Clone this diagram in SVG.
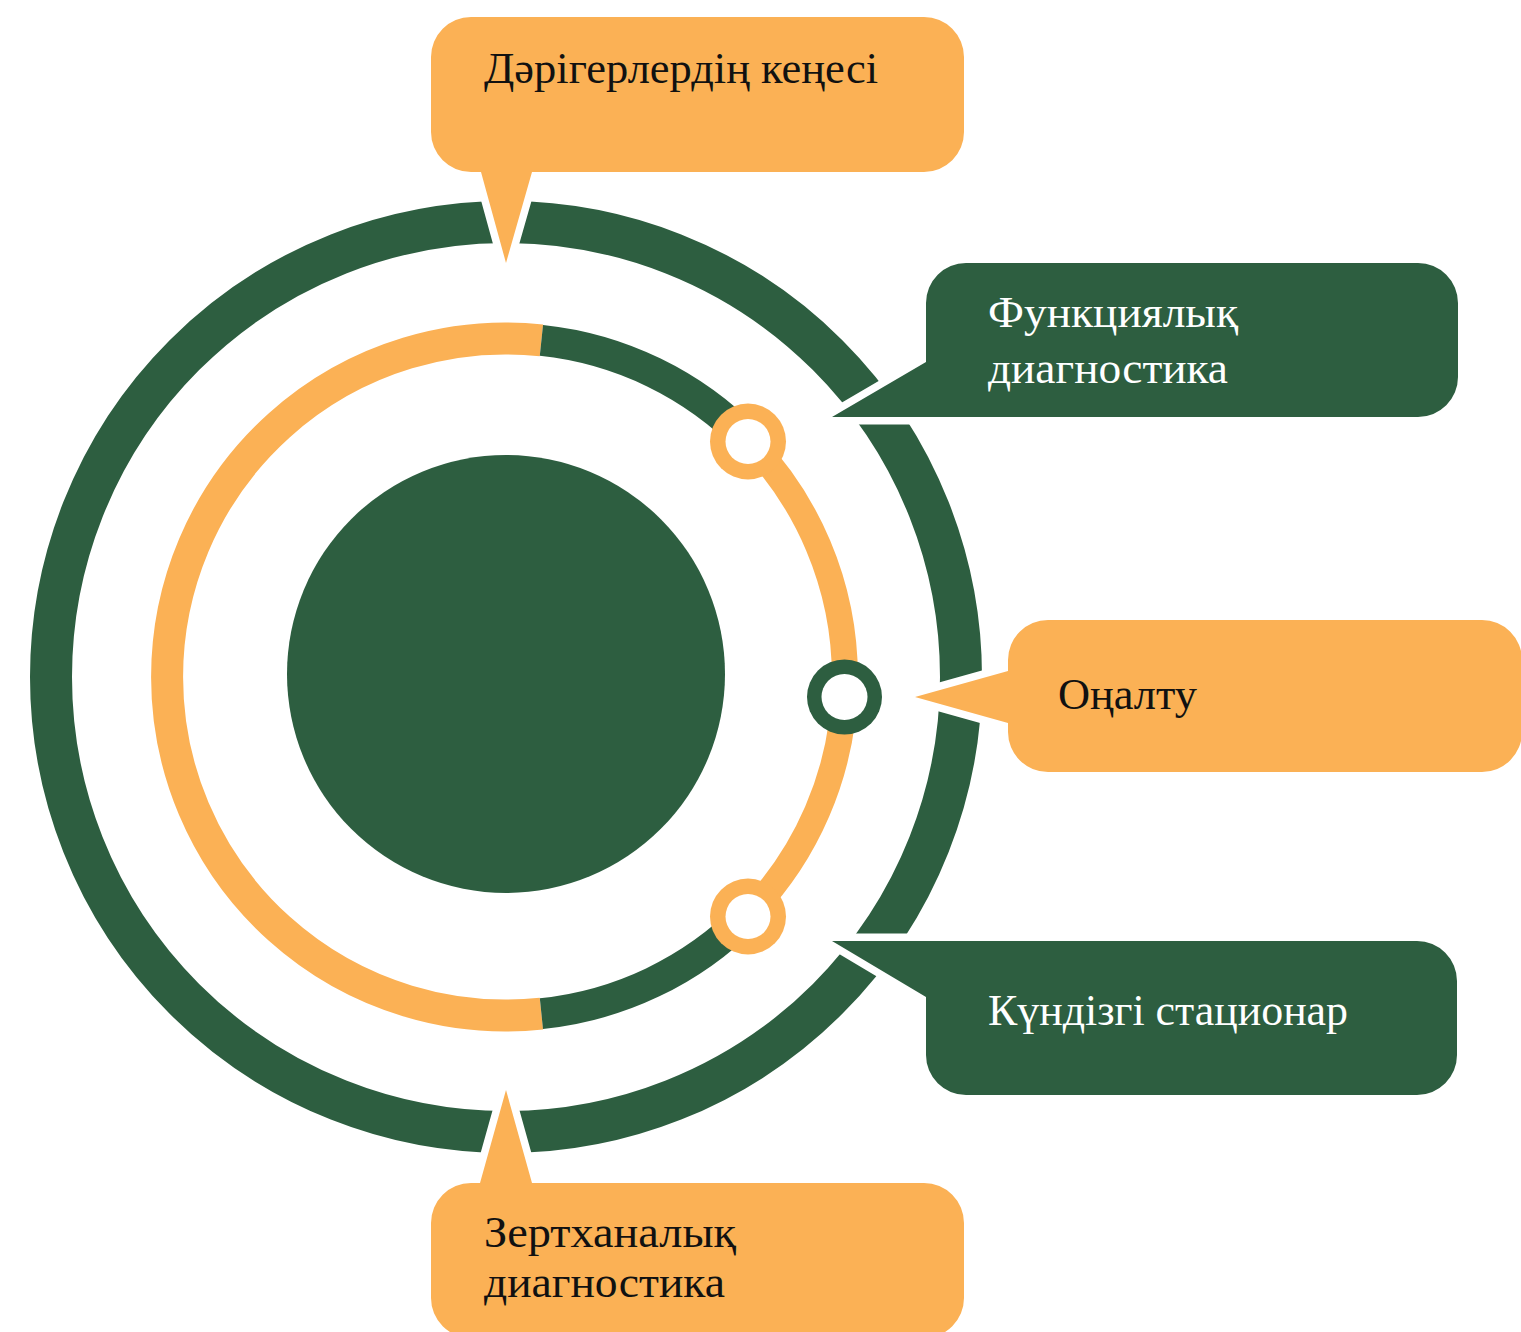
<svg xmlns="http://www.w3.org/2000/svg" width="1521" height="1332" viewBox="0 0 1521 1332">
  <style>
    .green { fill: #2D5E40; }
    .orange { fill: #FBB155; }
    .callout { stroke: #FFFFFF; stroke-width: 15; stroke-linejoin: miter; paint-order: stroke; }
    .arc { fill: none; stroke-linecap: butt; }
    .lbl { font-family: "Liberation Serif", "DejaVu Serif", serif; font-size: 44px; }
    .dark { fill: #111111; }
    .light { fill: #FFFFFF; }
  </style>
  <rect x="0" y="0" width="1521" height="1332" fill="#FFFFFF"/>

  <g id="connectors">
    <circle id="outer-ring" cx="506" cy="677" r="455" class="arc" stroke="#2D5E40" stroke-width="42"/>
    <path d="M541.4,1013.6 A338.5,338.5 0 1 1 541.4,340.4" class="arc" stroke="#FBB155" stroke-width="32"/>
    <path d="M541.4,340.4 A338.5,338.5 0 0 1 748.7,441.0" class="arc" stroke="#2D5E40" stroke-width="31"/>
    <path d="M748.7,441.0 A338.5,338.5 0 0 1 747.0,915.5" class="arc" stroke="#FBB155" stroke-width="26"/>
    <path d="M747.0,915.5 A338.5,338.5 0 0 1 541.4,1013.6" class="arc" stroke="#2D5E40" stroke-width="31"/>
  </g>

  <g id="center">
    <circle cx="506" cy="674" r="219" class="green"/>
  </g>

  <g id="marker-upper">
    <circle cx="748" cy="441.5" r="38" class="orange"/>
    <circle cx="748" cy="441.5" r="22.5" fill="#FFFFFF"/>
  </g>
  <g id="marker-middle">
    <circle cx="844.5" cy="697" r="37.5" class="green"/>
    <circle cx="844.5" cy="697" r="23" fill="#FFFFFF"/>
  </g>
  <g id="marker-lower">
    <circle cx="748" cy="916.5" r="38" class="orange"/>
    <circle cx="748" cy="916.5" r="22.5" fill="#FFFFFF"/>
  </g>

  <g id="callout-top">
    <path class="orange callout" d="M471,17 H924 A40,40 0 0 1 964,57 V132 A40,40 0 0 1 924,172 H532 L506,263 L481,172 H471 A40,40 0 0 1 431,132 V57 A40,40 0 0 1 471,17 Z"/>
    <text class="lbl dark" x="484" y="83" textLength="394" lengthAdjust="spacingAndGlyphs">Дәрігерлердің кеңесі</text>
  </g>

  <g id="callout-functional">
    <path class="green callout" d="M966,263 H1418 A40,40 0 0 1 1458,303 V377 A40,40 0 0 1 1418,417 H832 L926,362 V303 A40,40 0 0 1 966,263 Z"/>
    <text class="lbl light" x="988" y="327" textLength="250" lengthAdjust="spacingAndGlyphs">Функциялық</text>
    <text class="lbl light" x="988" y="383" textLength="240" lengthAdjust="spacingAndGlyphs">диагностика</text>
  </g>

  <g id="callout-rehab">
    <path class="orange callout" d="M1048,620 H1482 A40,40 0 0 1 1522,660 V732 A40,40 0 0 1 1482,772 H1048 A40,40 0 0 1 1008,732 V723 L915,697 L1008,671 V660 A40,40 0 0 1 1048,620 Z"/>
    <text class="lbl dark" x="1058" y="709" textLength="139" lengthAdjust="spacingAndGlyphs">Оңалту</text>
  </g>

  <g id="callout-daystation">
    <path class="green callout" d="M832,941 H1417 A40,40 0 0 1 1457,981 V1055 A40,40 0 0 1 1417,1095 H966 A40,40 0 0 1 926,1055 V997 Z"/>
    <text class="lbl light" x="988" y="1025" textLength="360" lengthAdjust="spacingAndGlyphs">Күндізгі стационар</text>
  </g>

  <g id="callout-lab">
    <path class="orange callout" d="M471,1183 H480 L506,1090 L532,1183 H924 A40,40 0 0 1 964,1223 V1298 A40,40 0 0 1 924,1338 H471 A40,40 0 0 1 431,1298 V1223 A40,40 0 0 1 471,1183 Z"/>
    <text class="lbl dark" x="484" y="1247" textLength="252" lengthAdjust="spacingAndGlyphs">Зертханалық</text>
    <text class="lbl dark" x="484" y="1297" textLength="241" lengthAdjust="spacingAndGlyphs">диагностика</text>
  </g>
</svg>
